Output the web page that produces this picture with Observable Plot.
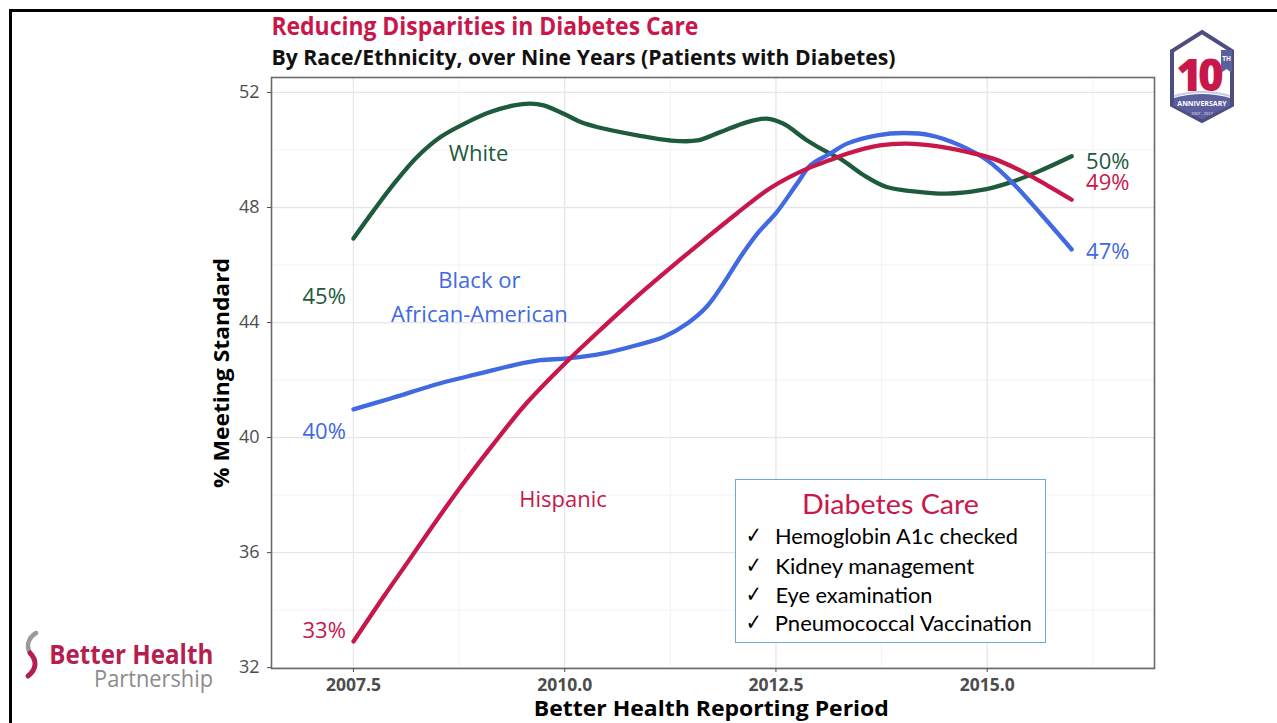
<!DOCTYPE html>
<html><head><meta charset="utf-8">
<script src="https://cdn.jsdelivr.net/npm/d3@7"></script>
<script src="https://cdn.jsdelivr.net/npm/@observablehq/plot@0.6"></script>
<style>
body{margin:0;background:#fff;}
#page{position:relative;width:1277px;height:723px;overflow:hidden;background:#fff;font-family:"Open Sans",sans-serif;}
#frame{position:absolute;left:9px;top:9px;width:1300px;height:800px;border-left:3px solid #000;border-top:3px solid #000;}
#chart{position:absolute;left:190px;top:70px;}
#legendbox{position:absolute;left:735px;top:479px;width:309px;height:162px;border:1.6px solid #72a7dd;background:#fff;}
</style></head><body><div id="page"><div id="frame"></div><div id="chart"></div><div id="legendbox"></div>
<svg id="logoS" style="position:absolute;left:20px;top:630px" width="26" height="50">
  <path d="M16,3 C8,8 6,16 10,23" fill="none" stroke="#9a9a9a" stroke-width="4.5" stroke-linecap="round"/>
  <path d="M10,23 C17,30 17,39 8,46" fill="none" stroke="#b41f4f" stroke-width="5" stroke-linecap="round"/>
</svg>
<svg id="badge" style="position:absolute;left:1166px;top:29px" width="72" height="96" viewBox="0 0 72 96">
  <polygon points="36,3 66,22 66,76 36,92 6,76 6,22" fill="#fff" stroke="#4d4d7e" stroke-width="4"/>
  <path d="M8,69 Q36,61 64,69 L64,77 L36,90 L8,77 Z" fill="#5b5f9e"/>
  <path d="M8,67 Q36,59 64,67" fill="none" stroke="#c9cbe6" stroke-width="2"/>
  <polygon points="55,21 66,21 66,44 60.5,40 55,44" fill="#5b5f9e"/>
  <text x="60.5" y="32" font-family="Open Sans" font-weight="700" font-size="6.5" fill="#fff" text-anchor="middle">TH</text>
  <text x="32" y="62" font-family="Open Sans" font-weight="800" font-size="44" fill="#c8174a" text-anchor="middle" letter-spacing="-4">10</text>
  <text x="36" y="77" font-family="Open Sans" font-weight="700" font-size="7" fill="#fff" text-anchor="middle">ANNIVERSARY</text>
  <text x="36" y="85.5" font-family="Open Sans" font-size="4" fill="#e8e8f4" text-anchor="middle">2007 - 2017</text>
</svg>
</div>
<script>
// ---- data ----
const seriesNames = ["White", "Black or African-American", "Hispanic"];
const seriesColors = ["#1e5b3c", "#4169e1", "#c8174a"];

const whiteYear  = [2007.5, 2007.74, 2007.98, 2008.25, 2008.53, 2008.85, 2009.12, 2009.40, 2009.59, 2009.75, 2010.03, 2010.19, 2010.38, 2010.86, 2011.25, 2011.57, 2011.84, 2012.16, 2012.39, 2012.59, 2012.87, 2013.14, 2013.26, 2013.54, 2013.81, 2014.13, 2014.52, 2014.92, 2015.23, 2015.59, 2016.0];
const whiteValue = [46.92, 47.90, 48.83, 49.75, 50.45, 50.97, 51.32, 51.55, 51.61, 51.55, 51.20, 50.97, 50.80, 50.51, 50.33, 50.33, 50.62, 50.97, 51.09, 50.91, 50.33, 49.87, 49.70, 49.12, 48.71, 48.56, 48.48, 48.60, 48.83, 49.23, 49.78];

const blackYear  = [2007.5, 2007.94, 2008.53, 2009.0, 2009.40, 2009.71, 2010.03, 2010.46, 2010.86, 2011.17, 2011.45, 2011.68, 2011.88, 2012.08, 2012.28, 2012.51, 2012.75, 2012.91, 2013.14, 2013.34, 2013.70, 2014.01, 2014.33, 2014.68, 2015.0, 2015.31, 2015.63, 2016.0];
const blackValue = [40.98, 41.36, 41.89, 42.23, 42.52, 42.69, 42.75, 42.93, 43.22, 43.50, 43.97, 44.55, 45.36, 46.28, 47.09, 47.84, 48.83, 49.47, 49.87, 50.22, 50.51, 50.59, 50.51, 50.16, 49.64, 48.83, 47.79, 46.54];

const hispanicYear  = [2007.5, 2007.86, 2008.14, 2008.45, 2008.80, 2009.16, 2009.55, 2010.06, 2010.46, 2010.86, 2011.25, 2011.64, 2012.04, 2012.43, 2012.83, 2013.14, 2013.34, 2013.73, 2014.05, 2014.40, 2014.76, 2015.07, 2015.39, 2015.71, 2016.0];
const hispanicValue = [32.91, 34.48, 35.66, 36.98, 38.41, 39.79, 41.20, 42.74, 43.85, 44.92, 45.90, 46.85, 47.80, 48.67, 49.30, 49.65, 49.87, 50.16, 50.22, 50.13, 49.93, 49.70, 49.29, 48.77, 48.27];

const yTicks = [32, 36, 40, 44, 48, 52];
const yTickLabels = ["32", "36", "40", "44", "48", "52"];
const yMinor = [34, 38, 42, 46, 50];
const xTicks = [2007.5, 2010, 2012.5, 2015];
const xTickLabels = ["2007.5", "2010.0", "2012.5", "2015.0"];
const xMinor = [2008.75, 2011.25, 2013.75, 2016.25];

const seriesLabelText = ["White", "Black or\nAfrican-American", "Hispanic"];
const seriesLabelSeries = ["White", "Black or African-American", "Hispanic"];
const seriesLabelX = [2008.98, 2008.99, 2009.98];
const seriesLabelY = [49.99, 44.99, 37.97];

const startLabelText = ["45%", "40%", "33%"];
const startLabelSeries = ["White", "Black or African-American", "Hispanic"];
const startLabelX = [2007.41, 2007.41, 2007.41];
const startLabelY = [44.88, 40.19, 33.28];

const endLabelText = ["50%", "49%", "47%"];
const endLabelSeries = ["White", "Hispanic", "Black or African-American"];
const endLabelX = [2016.17, 2016.17, 2016.17];
const endLabelY = [49.57, 48.86, 46.47];

const legendTitle = "Diabetes Care";
const legendItems = ["Hemoglobin A1c checked", "Kidney management", "Eye examination", "Pneumococcal Vaccination"];

// ---- build tables ----
const rows = [];
[[whiteYear, whiteValue], [blackYear, blackValue], [hispanicYear, hispanicValue]].forEach(([xs, vs], s) => {
  xs.forEach((x, i) => rows.push({series: seriesNames[s], year: x, value: vs[i]}));
});
const mk = (texts, series, xs, ys) => texts.map((t, i) => ({series: series[i], x: xs[i], y: ys[i], text: t}));
const seriesLabels = mk(seriesLabelText, seriesLabelSeries, seriesLabelX, seriesLabelY);
const startLabels = mk(startLabelText, startLabelSeries, startLabelX, startLabelY);
const endLabels = mk(endLabelText, endLabelSeries, endLabelX, endLabelY);

const chart = Plot.plot({
  width: 980, height: 653,
  marginLeft: 81, marginRight: 16, marginTop: 7, marginBottom: 55,
  style: {fontFamily: "'Open Sans', sans-serif", background: "transparent", overflow: "visible"},
  x: {domain: [2006.53, 2016.98]},
  y: {domain: [31.97, 52.52]},
  color: {domain: seriesNames, range: seriesColors},
  marks: [
    Plot.gridX(xMinor, {stroke: "#eeeeee", strokeOpacity: 1, strokeWidth: 0.7}),
    Plot.gridY(yMinor, {stroke: "#eeeeee", strokeOpacity: 1, strokeWidth: 0.7}),
    Plot.gridX(xTicks, {stroke: "#e6e6e6", strokeOpacity: 1, strokeWidth: 1.3}),
    Plot.gridY(yTicks, {stroke: "#e6e6e6", strokeOpacity: 1, strokeWidth: 1.3}),
    Plot.line(rows, {x: "year", y: "value", z: "series", stroke: "series", strokeWidth: 4.3, curve: "catmull-rom"}),
    Plot.text(seriesLabels, {x: "x", y: "y", text: "text", fill: "series", fontSize: 22, lineHeight: 1.55}),
    Plot.text(startLabels, {x: "x", y: "y", text: "text", fill: "series", fontSize: 22, textAnchor: "end"}),
    Plot.text(endLabels, {x: "x", y: "y", text: "text", fill: "series", fontSize: 22, textAnchor: "start"}),
    Plot.frame({stroke: "#6a6a6a", strokeWidth: 1.6}),
    Plot.axisY(yTicks, {tickSize: 4, tickPadding: 8, fontSize: 18, color: "#4d4d4d", label: null,
      tickFormat: d => yTickLabels[yTicks.indexOf(d)]}),
    Plot.axisX(xTicks, {tickSize: 4, tickPadding: 6, fontSize: 17.5, fontWeight: "bold", color: "#4d4d4d", label: null,
      tickFormat: d => xTickLabels[xTicks.indexOf(d)]})
  ]
});
document.getElementById("chart").appendChild(chart);

// ---- html text ----
const page = document.getElementById("page");
const LH = 0.8;
function place(o) {
  const el = document.createElement("div");
  el.textContent = o.text;
  el.style.position = "absolute";
  el.style.whiteSpace = "nowrap";
  el.style.lineHeight = String(LH);
  el.style.fontFamily = o.family || "'Open Sans', sans-serif";
  el.style.fontSize = o.fs + "px";
  el.style.fontWeight = o.weight || 400;
  el.style.color = o.color || "#000";
  page.appendChild(el);
  const r = el.getBoundingClientRect();
  const k = o.w ? o.w / r.width : 1;
  const cx = o.cx !== undefined ? o.cx : o.left + (r.width * k) / 2;
  el.style.left = (cx - r.width / 2) + "px";
  el.style.top = (o.cy - (LH / 2 + 0.03) * o.fs) + "px";
  el.style.transformOrigin = `50% ${(LH / 2 + 0.03) * 100 / LH}%`;
  el.style.transform = (o.rotate ? `rotate(${o.rotate}deg) ` : "") + `scaleX(${k})`;
  return el;
}
const RED = "#c8174a";
place({text: "Reducing Disparities in Diabetes Care", left: 271, cy: 26, fs: 25, weight: 700, color: RED, w: 427});
place({text: "By Race/Ethnicity, over Nine Years (Patients with Diabetes)", left: 271, cy: 57, fs: 22, weight: 700, color: "#111", w: 624});
place({text: "Better Health Reporting Period", cx: 711, cy: 709, fs: 21, weight: 700, color: "#000", w: 355});
place({text: "% Meeting Standard", cx: 222, cy: 373, fs: 21, weight: 700, color: "#000", w: 230, rotate: -90});

// legend box
place({text: legendTitle, cx: 890, cy: 505, fs: 27, family: "Lato, sans-serif", color: RED, w: 177});
const itemCy = [536.7, 566.7, 595.5, 624];
const itemW = [243, 199, 157, 257];
legendItems.forEach((t, i) => {
  place({text: "\u2713", left: 746, cy: itemCy[i] - 1, fs: 23, family: "'DejaVu Sans', sans-serif", color: "#000", w: 16});
  place({text: t, left: 775, cy: itemCy[i], fs: 20.5, family: "Lato, sans-serif", color: "#000", w: itemW[i]});
});

// logo text
place({text: "Better Health", left: 49, cy: 655.5, fs: 26, weight: 700, color: "#b41f4f", w: 164});
place({text: "Partnership", left: 94, cy: 678, fs: 24, weight: 400, color: "#8c8c8c", w: 119});
</script>
</body></html>
